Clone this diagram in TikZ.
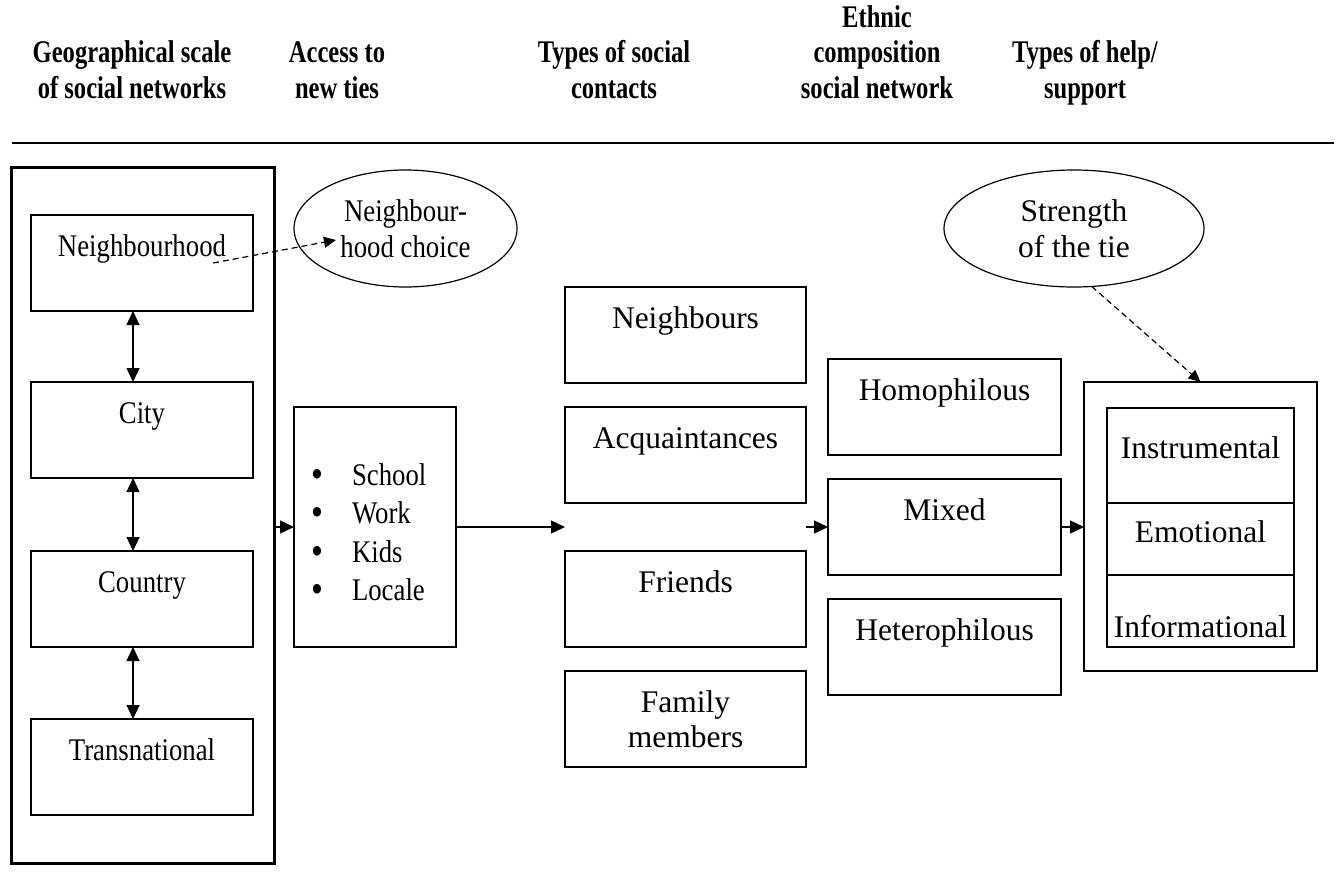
\documentclass[tikz,border=0pt]{standalone}
\usepackage{fontspec}
\setmainfont{Liberation Serif}
\newfontfamily\narrowfont{Liberation Serif}[FakeStretch=0.85]
\newfontfamily\hdrfont{Liberation Serif}[FakeStretch=0.78]
\usetikzlibrary{arrows.meta,shapes.geometric,calc}
\begin{document}
\begin{tikzpicture}[x=1pt,y=-1pt,
  every node/.style={inner sep=0pt, outer sep=0pt},
  normtext/.style={font=\fontsize{31.5}{36}\selectfont},
  nartext/.style={font=\narrowfont\fontsize{31.5}{36}\selectfont},
  hdr/.style={font=\hdrfont\bfseries\fontsize{31.5}{35.5}\selectfont, align=center, anchor=base},
  box/.style={draw, line width=1.2pt, anchor=north west, align=center, text height=41pt, text depth=55pt},
  frame/.style={draw, line width=1.2pt, anchor=north west},
  oval/.style={draw, ellipse, line width=1.2pt, align=center},
  arr/.style={line width=1.3pt, -{Triangle[length=14pt,width=13pt]}},
  darr/.style={line width=1.3pt, {Triangle[length=14pt,width=13pt]}-{Triangle[length=14pt,width=13pt]}},
  dasharr/.style={line width=1.2pt, dash pattern=on 6pt off 4pt, -{Triangle[length=12pt,width=11pt]}}
]
\useasboundingbox (0,0) rectangle (1339,881);

% headers (anchor base = last line)
\node[hdr] (h1) at (132,98) {Geographical scale\\of social networks};
\node[hdr] (h2) at (337,98) {Access to\\new ties};
\node[hdr] (h3) at (614,98) {Types of social\\contacts};
\node[hdr] (h4) at (877,98) {Ethnic\\composition\\social network};
\node[hdr] (h5) at (1085,98) {Types of help/\\support};
\draw[line width=1.5pt] (12,143) -- (1334,143);

% geographical scale
\node[frame, line width=3pt, minimum width=263pt, minimum height=696pt] (geo) at (11,167) {};
\node[box, nartext, minimum width=222pt] (nb) at (31,215) {Neighbourhood};
\node[box, nartext, minimum width=222pt] (city) at (31,382) {City};
\node[box, nartext, minimum width=222pt] (country) at (31,551) {Country};
\node[box, nartext, minimum width=222pt] (trans) at (31,719) {Transnational};
\draw[darr] ([xshift=-9pt]nb.south) -- ([xshift=-9pt]city.north);
\draw[darr] ([xshift=-9pt]city.south) -- ([xshift=-9pt]country.north);
\draw[darr] ([xshift=-9pt]country.south) -- ([xshift=-9pt]trans.north);

% neighbourhood choice
\node[oval, nartext, minimum width=223pt, minimum height=117pt] (nchoice) at (405.5,228.5) {Neighbour-\\hood choice};
\coordinate (d1) at (213,263);
\coordinate (d2) at (336,240);
\draw[dasharr] (d1) -- (d2);

% access list
\newcommand\mybul{\raisebox{-2pt}{\fontsize{40}{36}\selectfont\textbullet}}
\node[box, nartext, text width=162pt, align=left, text height=78pt, text depth=162pt] (list) at (294,407)
 {\begin{tabular}[t]{@{\hspace{17pt}}p{41pt}@{}l@{}}
  \mybul & School\\[2.5pt]
  \mybul & Work\\[2.5pt]
  \mybul & Kids\\[2.5pt]
  \mybul & Locale
 \end{tabular}};
\draw[arr] (geo.east |- list.west) -- (list.west);

% types of contacts
\node[box, normtext, minimum width=241pt] (neighbours) at (565,287) {Neighbours};
\node[box, normtext, minimum width=241pt] (acq) at (565,407) {Acquaintances};
\node[box, normtext, minimum width=241pt] (friends) at (565,551) {Friends};
\node[box, normtext, minimum width=241pt, text height=76pt, text depth=20pt, font=\fontsize{31.5}{35}\selectfont] (family) at (565,671) {Family\\members};
\coordinate (cin) at (565,527);
\coordinate (cout) at (806,527);
\draw[arr] (list.east |- cin) -- (cin);

% ethnic composition
\node[box, normtext, minimum width=233pt] (homo) at (828,359) {Homophilous};
\node[box, normtext, minimum width=233pt] (mixed) at (828,479) {Mixed};
\node[box, normtext, minimum width=233pt] (hetero) at (828,599) {Heterophilous};
\draw[arr] (cout) -- (mixed.west);

% types of help
\node[frame, minimum width=233pt, minimum height=289pt] (help) at (1084,382) {};
\node[box, normtext, minimum width=187pt, text height=50pt, text depth=45pt] (inst) at (1107,408) {Instrumental};
\node[box, normtext, minimum width=187pt, text height=39pt, text depth=33pt] (emo) at (1107,503) {Emotional};
\node[box, normtext, minimum width=187pt, text height=62pt, text depth=10pt] (info) at (1107,575) {Informational};
\draw[arr] (mixed.east) -- (help.west |- mixed.east);

% strength of the tie
\node[oval, normtext, minimum width=260pt, minimum height=117pt] (str) at (1074,228.5) {Strength\\of the tie};
\draw[dasharr] (str.-73) -- (help.north);
\end{tikzpicture}
\end{document}
